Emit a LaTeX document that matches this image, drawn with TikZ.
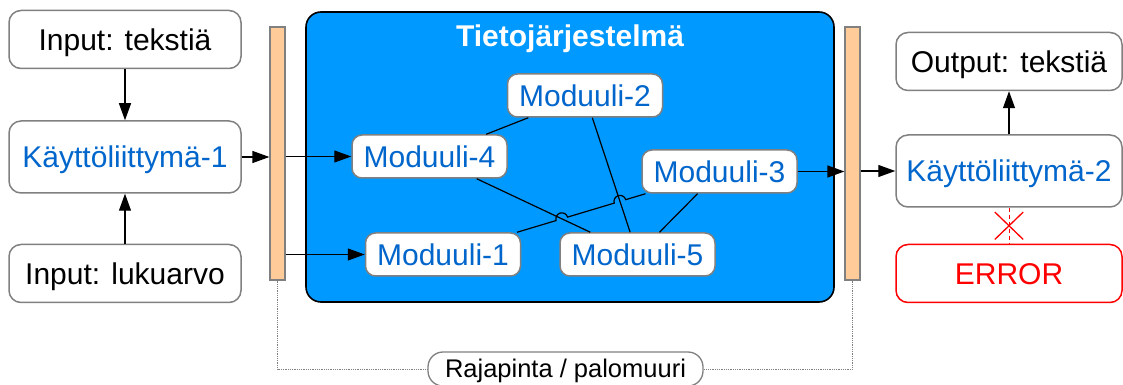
\documentclass[tikz,border=0pt]{standalone}
\usepackage{fontspec}
\setmainfont{Liberation Sans}
\usepackage{tikz}
\usetikzlibrary{positioning,shapes.misc,arrows.meta,calc,intersections}

\definecolor{sysblue}{RGB}{0,153,255}
\definecolor{uitext}{RGB}{0,102,204}
\definecolor{wallfill}{RGB}{255,204,153}
\definecolor{boxgray}{RGB}{128,128,128}

\begin{document}
\begin{tikzpicture}[
	x=1pt, y=1pt,
	iobox/.style={draw=boxgray, line width=1.5pt, rounded corners=12pt, fill=white,
		minimum width=232pt, minimum height=58pt, font=\fontsize{30}{36}\selectfont,
		text height=21.5pt, text depth=0pt},
	uibox/.style={iobox, minimum height=72pt, text=uitext},
	modbox/.style={draw=boxgray, line width=1.5pt, rounded corners=10pt, fill=white,
		minimum width=155pt, minimum height=43pt, text=uitext, font=\fontsize{30}{36}\selectfont,
		text height=21.5pt, text depth=0pt},
	sysbox/.style={draw=black, line width=1.6pt, rounded corners=15pt, fill=sysblue,
		minimum width=528pt, minimum height=290pt},
	wall/.style={draw=boxgray, line width=1.2pt, fill=wallfill, inner sep=0pt,
		minimum width=15pt, minimum height=253pt},
	tagbox/.style={draw=boxgray, line width=1.3pt, rounded corners=15pt, fill=white,
		minimum width=275pt, minimum height=34pt, font=\fontsize{25.5}{30}\selectfont,
		text height=18pt, text depth=0pt},
	arr/.style={-{Triangle[length=17pt,width=12pt]}, line width=1.2pt},
	link/.style={line width=1.2pt},
	crossx/.style={cross out, draw=red, solid, line width=1.3pt, inner sep=0pt,
		minimum width=27pt, minimum height=26pt}
	]
	\useasboundingbox (0,0) rectangle (1123,385);

	% input side
	\node[uibox] (k1) at (125,228) {Käyttöliittymä-1};
	\node[iobox, above=51pt of k1] (intxt) {Input: tekstiä};
	\node[iobox, below=50pt of k1] (inval) {Input: lukuarvo};

	% firewalls
	\node[wall] (lbar) at (277.5,231.5) {};
	\node[wall] (rbar) at (852.5,231.5) {};

	% the system and its modules
	\node[sysbox] (sys) at (570,228) {};
	\node[text=white, font=\bfseries\fontsize{30}{36}\selectfont, text height=21.5pt, text depth=0pt,
		below=10pt of sys.north] (title) {Tietojärjestelmä};
	\node[modbox] (m2) at (585,289.5) {Moduuli-2};
	\node[modbox] (m4) at (429.5,228.5) {Moduuli-4};
	\node[modbox] (m3) at (719.5,213.5) {Moduuli-3};
	\node[modbox] (m1) at (443,130.5) {Moduuli-1};
	\node[modbox, right=38pt of m1] (m5) {Moduuli-5};

	% output side
	\node[uibox, minimum width=226pt] (k2) at (1009,214) {Käyttöliittymä-2};
	\node[iobox, minimum width=226pt, above=43pt of k2] (outtxt) {Output: tekstiä};
	\node[iobox, minimum width=226pt, draw=red, text=red, below=36pt of k2] (err) {ERROR};

	\node[tagbox] (rp) at (565.5,16) {Rajapinta / palomuuri};

	\draw[arr] (intxt) -- (k1);
	\draw[arr] (inval) -- (k1);
	\draw[arr] (k1.east) -- (k1.east -| lbar.west);
	\draw[arr] (lbar.east |- m4.west) -- (m4.west);
	\draw[arr] (lbar.east |- m1.west) -- (m1.west);
	\draw[arr] (m3.east) -- (m3.east -| rbar.west);
	\draw[arr] (rbar.east |- k2.west) -- (k2.west);
	\draw[arr] (k2) -- (outtxt);
	\draw[red, line width=1pt, dash pattern=on 4pt off 3pt] (k2) -- node[crossx] (blk) {} (err);

	% module links
	\draw[link] (m4) -- (m2);
	\draw[link, name path=l45] (m4) -- (m5);
	\draw[link, name path=l25] (m2) -- (m5);
	\draw[link] (m3) -- (m5);
	\path[name path=l13] (m1) -- (m3);
	\path[name intersections={of=l13 and l45, by=ha}];
	\path[name intersections={of=l13 and l25, by=hb}];
	\draw[link] let \p1=($(m3)-(m1)$), \n1={atan2(\y1,\x1)} in
		(m1) -- ($(ha)!6pt!(m1)$) arc[start angle=\n1+180, end angle=\n1, radius=6pt]
		-- ($(hb)!6pt!(m1)$) arc[start angle=\n1+180, end angle=\n1, radius=6pt]
		-- (m3);

	% interface line
	\draw[boxgray, densely dotted, line width=0.8pt] (lbar.south) |- (rp.west);
	\draw[boxgray, densely dotted, line width=0.8pt] (rbar.south) |- (rp.east);
\end{tikzpicture}
\end{document}
